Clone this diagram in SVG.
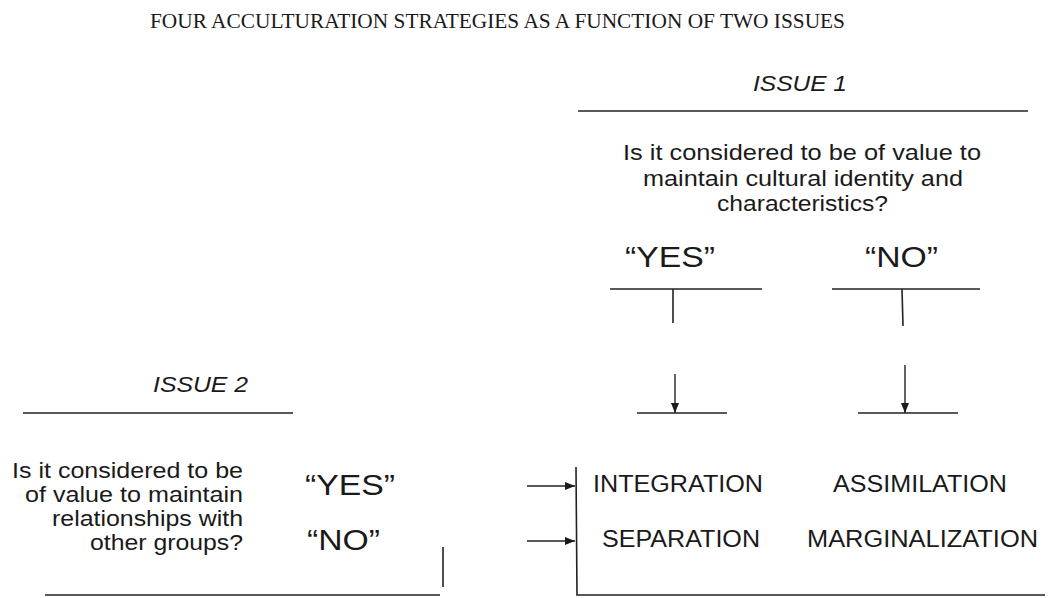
<svg xmlns="http://www.w3.org/2000/svg" width="1050" height="598" viewBox="0 0 1050 598">
  <defs>
    <marker id="arrow" viewBox="0 0 10 8" refX="10" refY="4" markerWidth="10" markerHeight="8" markerUnits="userSpaceOnUse" orient="auto">
      <path d="M0,0 L10,4 L0,8 Z" fill="#1a1a1a"/>
    </marker>
    <style>
      .title { font-family: "Liberation Serif", "Times New Roman", serif; font-size: 22px; fill: #1a1a1a; }
      .issue { font-family: "Liberation Sans", Arial, sans-serif; font-size: 22px; font-style: italic; fill: #1a1a1a; }
      .q { font-family: "Liberation Sans", Arial, sans-serif; font-size: 22px; fill: #1a1a1a; }
      .yn { font-family: "Liberation Sans", Arial, sans-serif; font-size: 30px; fill: #1a1a1a; }
      .strat { font-family: "Liberation Sans", Arial, sans-serif; font-size: 23px; fill: #1a1a1a; }
      .ln { stroke: #222; stroke-width: 1.6; fill: none; }
      .arr { stroke: #222; stroke-width: 1.4; fill: none; marker-end: url(#arrow); }
    </style>
  </defs>
  <rect width="1050" height="598" fill="#ffffff"/>

  <g id="title">
    <text class="title" x="150" y="28" textLength="695" lengthAdjust="spacingAndGlyphs">FOUR ACCULTURATION STRATEGIES AS A FUNCTION OF TWO ISSUES</text>
  </g>

  <g id="issue1">
    <text class="issue" x="753" y="91" textLength="94" lengthAdjust="spacingAndGlyphs">ISSUE 1</text>
  </g>
  <g id="issue1-question">
    <text class="q" x="623" y="160" textLength="358" lengthAdjust="spacingAndGlyphs">Is it considered to be of value to</text>
    <text class="q" x="643" y="186" textLength="320" lengthAdjust="spacingAndGlyphs">maintain cultural identity and</text>
    <text class="q" x="717" y="211" textLength="171" lengthAdjust="spacingAndGlyphs">characteristics?</text>
  </g>
  <g id="issue1-yes">
    <text class="yn" x="625" y="267" textLength="90" lengthAdjust="spacingAndGlyphs">“YES”</text>
  </g>
  <g id="issue1-no">
    <text class="yn" x="865" y="267" textLength="73" lengthAdjust="spacingAndGlyphs">“NO”</text>
  </g>

  <g id="issue2">
    <text class="issue" x="153" y="392" textLength="95" lengthAdjust="spacingAndGlyphs">ISSUE 2</text>
  </g>
  <g id="issue2-question">
    <text class="q" x="12" y="478" textLength="231" lengthAdjust="spacingAndGlyphs">Is it considered to be</text>
    <text class="q" x="25" y="502" textLength="218" lengthAdjust="spacingAndGlyphs">of value to maintain</text>
    <text class="q" x="52" y="526" textLength="191" lengthAdjust="spacingAndGlyphs">relationships with</text>
    <text class="q" x="90" y="550" textLength="153" lengthAdjust="spacingAndGlyphs">other groups?</text>
  </g>
  <g id="issue2-yes">
    <text class="yn" x="305" y="495" textLength="90" lengthAdjust="spacingAndGlyphs">“YES”</text>
  </g>
  <g id="issue2-no">
    <text class="yn" x="307" y="550" textLength="73" lengthAdjust="spacingAndGlyphs">“NO”</text>
  </g>

  <g id="integration">
    <text class="strat" x="593" y="492" textLength="170" lengthAdjust="spacingAndGlyphs">INTEGRATION</text>
  </g>
  <g id="assimilation">
    <text class="strat" x="833" y="492" textLength="174" lengthAdjust="spacingAndGlyphs">ASSIMILATION</text>
  </g>
  <g id="separation">
    <text class="strat" x="602" y="547" textLength="158" lengthAdjust="spacingAndGlyphs">SEPARATION</text>
  </g>
  <g id="marginalization">
    <text class="strat" x="807" y="547" textLength="231" lengthAdjust="spacingAndGlyphs">MARGINALIZATION</text>
  </g>

  <g id="connectors">
    <!-- Issue 1 underline -->
    <line class="ln" x1="578" y1="111" x2="1028" y2="111"/>
    <!-- YES / NO underlines -->
    <line class="ln" x1="610" y1="289" x2="762" y2="289"/>
    <line class="ln" x1="832" y1="289" x2="980" y2="289"/>
    <!-- stubs -->
    <line class="ln" x1="673" y1="289" x2="673" y2="323"/>
    <line class="ln" x1="902" y1="289" x2="903" y2="326"/>
    <!-- downward arrows -->
    <line class="arr" x1="675" y1="374" x2="675" y2="413"/>
    <line class="arr" x1="905" y1="365" x2="905" y2="413"/>
    <!-- short lines -->
    <line class="ln" x1="637" y1="413" x2="727" y2="413"/>
    <line class="ln" x1="858" y1="413" x2="958" y2="413"/>
    <!-- Issue 2 underline -->
    <line class="ln" x1="23" y1="413" x2="293" y2="413"/>
    <!-- left bottom bracket -->
    <line class="ln" x1="45" y1="595" x2="440" y2="595"/>
    <line class="ln" x1="443" y1="547" x2="443" y2="587"/>
    <!-- horizontal arrows -->
    <line class="arr" x1="527" y1="486" x2="575" y2="486"/>
    <line class="arr" x1="527" y1="541" x2="575" y2="541"/>
    <!-- right bracket -->
    <path class="ln" d="M576,467 L577,595 L1045,595"/>
  </g>
</svg>
